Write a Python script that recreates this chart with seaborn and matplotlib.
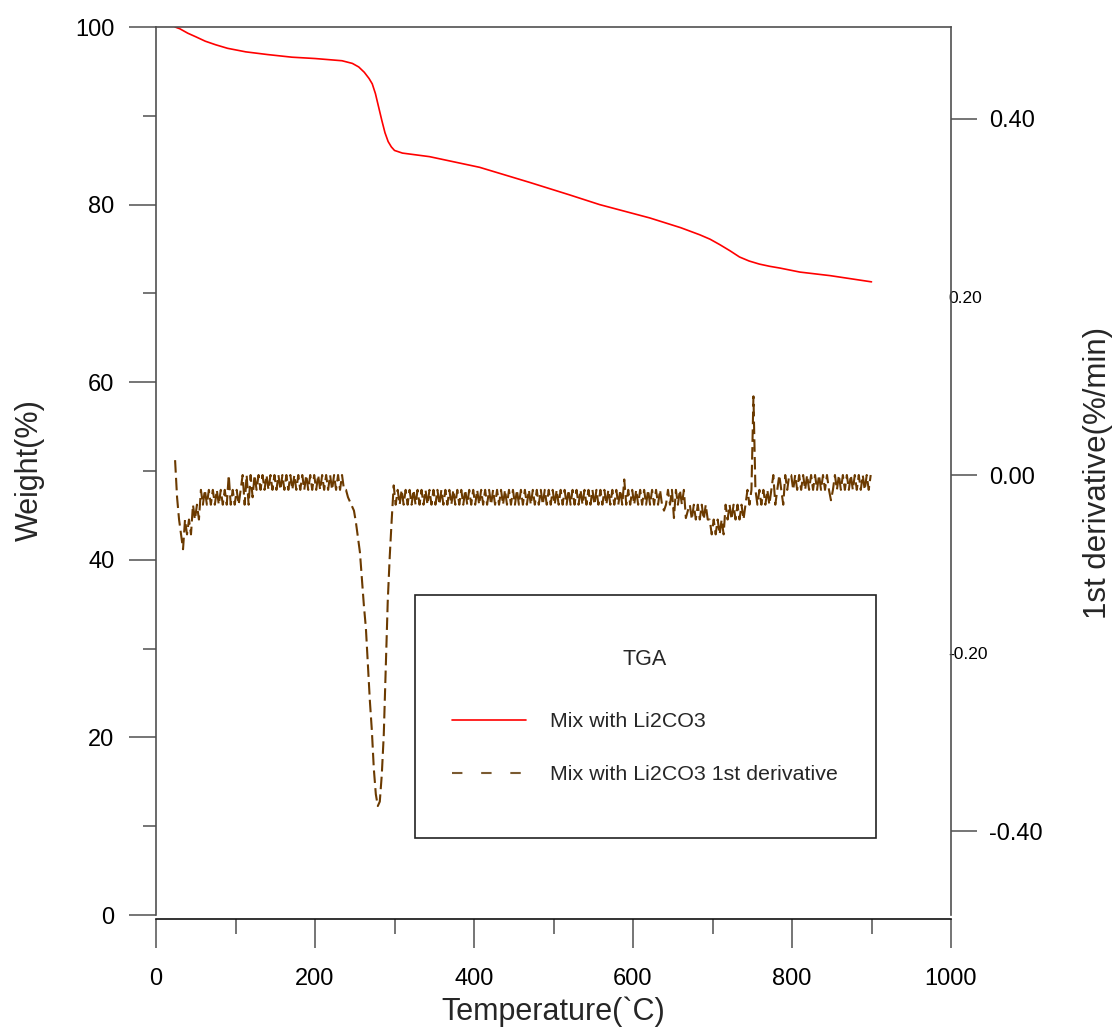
import numpy as np
import matplotlib
matplotlib.use("Agg")
import matplotlib.pyplot as plt
import seaborn as sns
import pandas as pd
from matplotlib.lines import Line2D
from matplotlib.patches import Rectangle
from matplotlib.ticker import FixedLocator, FixedFormatter, MultipleLocator

# ---------------- data ----------------
tga_temp = [24, 30, 40, 50, 62, 75, 90, 113, 140, 171, 200, 234, 247, 255, 262,
            268, 272, 276, 280, 284, 288, 292, 296, 300, 310, 344, 407, 470, 520,
            558, 621, 660, 684, 697, 709, 722, 734, 746, 759, 772, 785, 810, 848,
            900]
tga_weight = [100.0, 99.8, 99.3, 98.9, 98.4, 98.0, 97.6, 97.2, 96.9, 96.6, 96.45,
              96.2, 95.9, 95.5, 94.9, 94.2, 93.6, 92.5, 91.0, 89.5, 88.1, 87.1,
              86.5, 86.1, 85.8, 85.4, 84.2, 82.5, 81.1, 80.0, 78.5, 77.4, 76.6,
              76.1, 75.5, 74.8, 74.1, 73.65, 73.3, 73.05, 72.85, 72.4, 72.0,
              71.3]

# derivative samples: first at 24 C, one every 2.5 C, values in units of 1/60 %/min
deriv_start = 24.0
deriv_step = 2.5
deriv_unit = 1.0 / 60.0
deriv_levels = """
1 -1.5 -3 -4 -5 -3 -4 -3 -4 -2 -3 -2 -3
-1 -2 -1 -2 -1 -2 -1 -2 -1 -2 -1 -2 -1 -2 0 -2 -1 -2 -1 -2 -1
0 -2 0 -2 0 -1.5
0 -1 0 -1 0 -1 0 -1 0 -1 0 -1 0 -1 0 -1 0 -1 0 -1 0 -1 0 -1
0 -1 0 -1 0 -1 0 -1 0 -1 0 -1 0 -1 0 -1 0 -1 0 -1 0 -1
-1 -1.5 -1.8 -2.1 -2.4 -3.2 -4.2 -5.2 -7 -8.8 -10.3 -12.8 -15.2 -17.2 -19.8
-21.5 -22.3 -22 -20.2 -17.5 -13 -8.5 -5.5 -3 -0.7 -2
-1 -2 -1 -2 -1 -2 -1 -2 -1 -2 -1 -2 -1 -2 -1 -2 -1 -2 -1 -2
-1 -2 -1 -2 -1 -2 -1 -2 -1 -2 -1 -2 -1 -2 -1 -2 -1 -2 -1 -2
-1 -2 -1 -2 -1 -2 -1 -2 -1 -2 -1 -2 -1 -2 -1 -2 -1 -2 -1 -2
-1 -2 -1 -2 -1 -2 -1 -2 -1 -2 -1 -2 -1 -2 -1 -2 -1 -2 -1 -2
-1 -2 -1 -2 -1 -2 -1 -2 -1 -2 -1 -2 -1 -2 -1 -2 -1 -2 -1 -2
-1 -2 -1 -2 -1 -2 -1 -2 -1 -2 -1 -2 -1 -2 -0.3 -2 -1 -2 -1 -2
-1 -2 -1 -2 -1 -2 -1 -2 -1 -2 -1 -2 -1 -2 -2.4 -2 -1 -2 -1 -2.9
-1 -2 -1 -2 -1 -2.9 -2.4
-2 -3 -2 -3 -2 -3 -2 -3 -2 -3
-3 -4 -3 -4 -3 -4 -3 -4
-2 -3 -2 -3 -2 -3 -2 -3 -2 -3 -2
-1 -2 -1 5.3 -1 -2 -1 -2 -1 -2 -1 -2
-1 0 -2 -1 0 -1 -2 0 -1 0
0 -1 0 -1 0 -1 0 -1 0 -1 0 -1 0 -1 0 -1 0 -1 0 -1
-1.7 -1 0 -1 0 -1 0 -1 0 -1 0 -1 0 -1 0 -1 0 -1 0 -1 0
"""

x_ticks = [0, 200, 400, 600, 800, 1000]
y_ticks = [0, 20, 40, 60, 80, 100]
right_major = [-0.4, 0.0, 0.4]
right_major_labels = ["-0.40", "0.00", "0.40"]
right_minor = [-0.2, 0.2]
right_minor_labels = ["-0.20", "0.20"]
legend_title = "TGA"
legend_labels = ["Mix with Li2CO3", "Mix with Li2CO3 1st derivative"]

# --------------- build frames ---------------
levels = np.array(deriv_levels.split(), dtype=float)
deriv_df = pd.DataFrame({
    "temp": deriv_start + deriv_step * np.arange(len(levels)),
    "deriv": levels * deriv_unit,
})
tga_df = pd.DataFrame({"temp": tga_temp, "weight": tga_weight})

# --------------- style ---------------
sns.set_theme(style="white")
plt.rcParams["font.family"] = ["Liberation Sans", "DejaVu Sans"]

W, H = 1113, 1030
fig = plt.figure(figsize=(W / 100, H / 100), dpi=100)
ax = fig.add_axes([156 / W, 1 - 915 / H, 795 / W, 888 / H])
ax2 = ax.twinx()

red = "#ff0000"
brown = "#6b3a00"
spine_c = "#505050"

sns.lineplot(data=tga_df, x="temp", y="weight", ax=ax, color=red,
             linewidth=1.2, sort=False)
sns.lineplot(data=deriv_df, x="temp", y="deriv", ax=ax2, color=brown,
             linewidth=1.5, sort=False)
ax2.lines[-1].set_dashes((6, 2.5))

ax.set_xlim(0, 1000)
ax.set_ylim(0, 100)
ax2.set_ylim(-0.494, 0.503)

ax.set_xlabel("")
ax.set_ylabel("")
ax2.set_ylabel("")

# spines
for s in ["left", "top", "bottom"]:
    ax.spines[s].set_visible(True)
    ax.spines[s].set_color(spine_c)
    ax.spines[s].set_linewidth(1.2)
ax.spines["bottom"].set_color("#111111")
ax.spines["bottom"].set_position(("outward", 3))
ax.spines["right"].set_visible(False)
for s in ["left", "top", "bottom"]:
    ax2.spines[s].set_visible(False)
ax2.spines["right"].set_visible(True)
ax2.spines["right"].set_color(spine_c)
ax2.spines["right"].set_linewidth(1.2)

# x ticks
ax.set_xticks(x_ticks)
ax.xaxis.set_minor_locator(MultipleLocator(100))
ax.tick_params(axis="x", which="major", direction="out", length=21, width=1.1,
               color=spine_c, labelsize=17, pad=14, bottom=True, labelcolor="black")
ax.tick_params(axis="x", which="minor", direction="out", length=11, width=1.1,
               color=spine_c, bottom=True)

# left y ticks
ax.set_yticks(y_ticks)
ax.yaxis.set_minor_locator(MultipleLocator(10))
ax.tick_params(axis="y", which="major", direction="out", length=19.5, width=1.1,
               color=spine_c, labelsize=17, pad=10.5, left=True, labelcolor="black")
ax.tick_params(axis="y", which="minor", direction="out", length=9.5, width=1.1,
               color=spine_c, left=True)

# right y ticks
ax2.yaxis.set_major_locator(FixedLocator(right_major))
ax2.yaxis.set_major_formatter(FixedFormatter(right_major_labels))
ax2.yaxis.set_minor_locator(FixedLocator(right_minor))
ax2.yaxis.set_minor_formatter(FixedFormatter(right_minor_labels))
ax2.tick_params(axis="y", which="major", direction="out", length=18.7, width=1.1,
                color=spine_c, labelsize=17, pad=9, right=True, labelcolor="black")
ax2.tick_params(axis="y", which="minor", length=0, labelsize=12.5, pad=-2,
                right=True, labelright=True, labelcolor="black")

# axis titles
fig.text(30 / W, 1 - 470 / H, "Weight(%)", rotation=90, ha="center",
         va="center", fontsize=22)
fig.text(1098 / W, 1 - 473 / H, "1st derivative(%/min)", rotation=90,
         ha="center", va="center", fontsize=22.5)
fig.text(553 / W, 1 - 1012 / H, "Temperature(`C)", ha="center", va="center",
         fontsize=22)

# legend box + legend
box = Rectangle((0.3258, 0.0867), 0.5799, 0.2736, transform=ax2.transAxes,
                fill=False, edgecolor="#222222", linewidth=1.2, zorder=5)
ax2.add_patch(box)
ax2.text((645 - 156) / 795, (915 - 659) / 888, legend_title,
         transform=ax2.transAxes, ha="center", va="center", fontsize=15.5)
handles = [
    Line2D([], [], color=red, linewidth=1.2),
    Line2D([], [], color="#7a5a30", linewidth=1.5, dashes=(5, 9)),
]
leg = ax2.legend(handles, legend_labels, loc="upper left",
                 bbox_to_anchor=((452 - 156) / 795, (915 - 712) / 888),
                 bbox_transform=ax2.transAxes, frameon=False, borderpad=0,
                 borderaxespad=0, fontsize=15.4, handlelength=3.46,
                 handletextpad=1.12, labelspacing=1.6)

fig.savefig("out.png", dpi=100)
